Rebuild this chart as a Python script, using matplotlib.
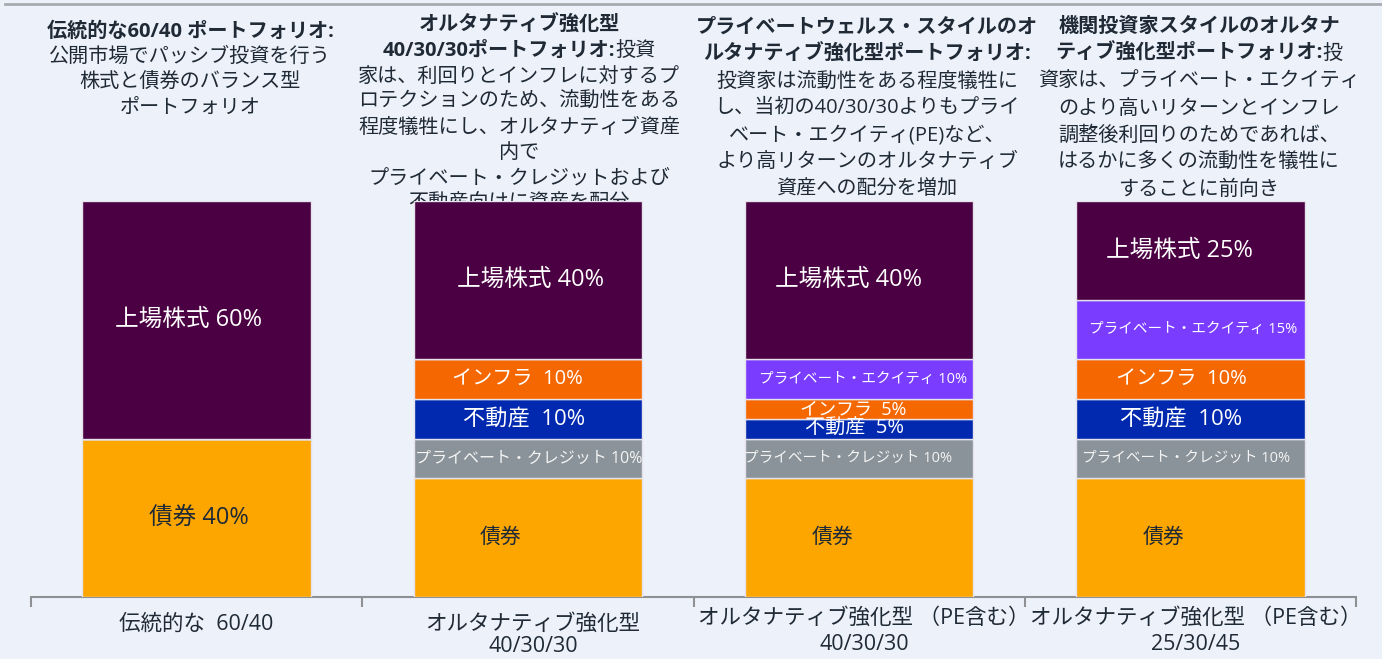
import matplotlib
matplotlib.use("Agg")
import matplotlib.pyplot as plt
from matplotlib.lines import Line2D
import matplotlib.transforms as mtrans
import numpy as np

plt.rcParams['font.family'] = ['Open Sans', 'Noto Sans CJK JP', 'DejaVu Sans']

# ---------------- data ----------------
categories = ['伝統的な  60/40',
              'オルタナティブ強化型\n40/30/30',
              'オルタナティブ強化型 （PE含む）\n40/30/30',
              'オルタナティブ強化型 （PE含む）\n25/30/45']

bonds = [40, 30, 30, 30]
private_credit = [0, 10, 10, 10]
real_estate = [0, 10, 5, 10]
infrastructure = [0, 10, 5, 10]
private_equity = [0, 0, 10, 15]
listed_equity = [60, 40, 40, 25]

bonds_labels = ['債券 40%', '債券', '債券', '債券']
pc_labels = ['', 'プライベート・クレジット 10%', 'プライベート・クレジット 10%', 'プライベート・クレジット 10%']
re_labels = ['', '不動産  10%', '不動産  5%', '不動産  10%']
infra_labels = ['', 'インフラ  10%', 'インフラ  5%', 'インフラ  10%']
pe_labels = ['', '', 'プライベート・エクイティ 10%', 'プライベート・エクイティ 15%']
eq_labels = ['上場株式 60%', '上場株式 40%', '上場株式 40%', '上場株式 25%']

# header lines: (bold part, regular part)
headers = [
    [("伝統的な60/40 ポートフォリオ:", ""),
     ("", "公開市場でパッシブ投資を行う"),
     ("", "株式と債券のバランス型"),
     ("", "ポートフォリオ")],
    [("オルタナティブ強化型", ""),
     ("40/30/30ポートフォリオ:", "投資"),
     ("", "家は、利回りとインフレに対するプ"),
     ("", "ロテクションのため、流動性をある"),
     ("", "程度犠牲にし、オルタナティブ資産"),
     ("", "内で"),
     ("", "プライベート・クレジットおよび"),
     ("", "不動産向けに資産を配分")],
    [("プライベートウェルス・スタイルのオ", ""),
     ("ルタナティブ強化型ポートフォリオ:", ""),
     ("", "投資家は流動性をある程度犠牲に"),
     ("", "し、当初の40/30/30よりもプライ"),
     ("", "ベート・エクイティ(PE)など、"),
     ("", "より高リターンのオルタナティブ"),
     ("", "資産への配分を増加")],
    [("機関投資家スタイルのオルタナ", ""),
     ("ティブ強化型ポートフォリオ:", "投"),
     ("", "資家は、プライベート・エクイティ"),
     ("", "のより高いリターンとインフレ"),
     ("", "調整後利回りのためであれば、"),
     ("", "はるかに多くの流動性を犠牲に"),
     ("", "することに前向き")],
]

# ---------------- style ----------------
W, H = 1382, 659
BG = '#EDF1F9'
TXT = '#1F2A36'
C_EQ = '#4A0042'
C_BOND = '#FDA600'
C_PC = '#8A9399'
C_RE = '#0029B0'
C_INF = '#F56700'
C_PE = '#7A3CFF'

fig = plt.figure(figsize=(W / 100, H / 100), dpi=100, facecolor=BG)
ax_left, ax_right = 31 / W, 1356 / W
ax_bottom, ax_top = 1 - 597 / H, 1 - 201 / H
ax = fig.add_axes([ax_left, ax_bottom, ax_right - ax_left, ax_top - ax_bottom])
ax.set_facecolor(BG)
ax.set_xlim(-0.5, 3.5)
ax.set_ylim(0, 100)

x = np.arange(len(categories))
bar_w = 0.69
px_per_unit = (1356 - 31) / 4.0

series = [
    (bonds, C_BOND, bonds_labels, TXT, [17, 15, 15, 15], [2, -27, -27, -27]),
    (private_credit, C_PC, pc_labels, '#F4F4F4', [0, 11.5, 10.5, 10.5], [0, 1, -11, -4]),
    (real_estate, C_RE, re_labels, 'white', [0, 16, 14.5, 16], [0, -4, -5, -9]),
    (infrastructure, C_INF, infra_labels, 'white', [0, 14.5, 13, 14.5], [0, -10, -6, -9]),
    (private_equity, C_PE, pe_labels, 'white', [0, 0, 10.5, 10.5], [0, 0, 4, 3]),
    (listed_equity, C_EQ, eq_labels, 'white', [17, 17, 17, 17], [-8, 3, -11, -11]),
]

bottom = np.zeros(len(categories))
for vals, col, labels, tcol, fsz, xoff in series:
    vals = np.array(vals, dtype=float)
    ax.bar(x, vals, bar_w, bottom=bottom, color=col, edgecolor='#E6E2EC',
           linewidth=1.0, zorder=2)
    for i, (v, lab) in enumerate(zip(vals, labels)):
        if v > 0 and lab:
            ax.text(x[i] + xoff[i] / px_per_unit, bottom[i] + v / 2, lab,
                    ha='center', va='center', color=tcol, fontsize=fsz[i], zorder=3)
    bottom += vals

# axis styling
for s in ['top', 'right', 'left']:
    ax.spines[s].set_visible(False)
ax.spines['bottom'].set_color('#8E9093')
ax.spines['bottom'].set_linewidth(1.5)
ax.spines['bottom'].set_zorder(1)
ax.set_yticks([])
ax.set_xticks(x)
ax.set_xticklabels([''] * len(x))
ax.tick_params(axis='x', which='major', length=0)
ax.set_xticks(np.arange(-0.5, 4, 1.0), minor=True)
ax.tick_params(axis='x', which='minor', length=7, width=1.5, color='#8E9093')

# category labels below axis (line centres in pixels from top)
cat_line_y = [[624], [624, 647], [618, 645], [618, 645]]
cat_xoff = [0, 5, 5, 5]
blend = mtrans.blended_transform_factory(ax.transData, fig.transFigure)
for i, lab in enumerate(categories):
    for line, ypx in zip(lab.split('\n'), cat_line_y[i]):
        ax.text(x[i] + cat_xoff[i] / px_per_unit, 1 - ypx / H, line, transform=blend,
                ha='center', va='center', fontsize=15.5, color=TXT, clip_on=False)

# headers (drawn beneath bars)
hdr_cx = [190, 519, 867, 1199]
hdr_y0 = [32, 26, 28, 27]
hdr_dy = [25.3, 25.4, 26.8, 27.2]
HF = 14.5
fig.canvas.draw()
renderer = fig.canvas.get_renderer()
for c, lines in enumerate(headers):
    for j, (bpart, rpart) in enumerate(lines):
        ypx = hdr_y0[c] + j * hdr_dy[c]
        yf = 1 - ypx / H
        tb = ax.text(0, yf, bpart, transform=fig.transFigure, ha='left', va='center',
                     fontsize=HF, fontweight='bold', color=TXT, zorder=0.5, clip_on=False)
        tr = ax.text(0, yf, rpart, transform=fig.transFigure, ha='left', va='center',
                     fontsize=HF, color=TXT, zorder=0.5, clip_on=False)
        wb = tb.get_window_extent(renderer).width if bpart else 0
        wr = tr.get_window_extent(renderer).width if rpart else 0
        start = hdr_cx[c] - (wb + wr) / 2
        tb.set_x(start / W)
        tr.set_x((start + wb) / W)

# top border line
fig.add_artist(Line2D([5 / W, 1], [1 - 4 / H, 1 - 4 / H], color='#A7AAAE', lw=2))

fig.savefig('out.png', dpi=100, facecolor=BG)
